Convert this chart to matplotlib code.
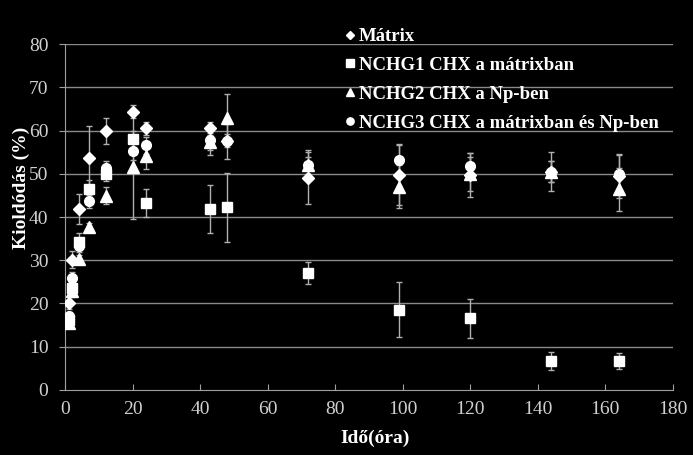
import matplotlib.pyplot as plt

# time points (hours)
ido = [1, 2, 4, 7, 12, 20, 24, 43, 48, 72, 99, 120, 144, 164]

# release (%) and error for each formulation
matrix = [20.2, 30.1, 41.8, 53.6, 60.0, 64.4, 60.5, 60.5, 57.7, 49.0, 49.8, 49.7, 50.5, 49.5]
matrix_err = [1.5, 2.0, 3.5, 7.5, 3.0, 1.5, 1.5, 1.5, 1.5, 6.0, 7.0, 5.0, 4.5, 5.0]

nchg1 = [16.2, 23.5, 34.3, 46.6, 49.9, 58.0, 43.2, 41.9, 42.3, 27.0, 18.6, 16.6, 6.7, 6.7]
nchg1_err = [1.5, 1.5, 2.0, 2.0, 1.5, 2.0, 3.3, 5.5, 8.0, 2.5, 6.4, 4.5, 2.0, 1.8]

nchg2 = [15.5, 23.0, 30.3, 37.6, 44.9, 51.5, 54.1, 57.4, 62.9, 52.1, 47.0, 50.0, 50.5, 46.4]
nchg2_err = [1.0, 1.5, 1.0, 1.0, 2.0, 12.0, 3.0, 2.0, 5.6, 3.3, 5.0, 4.0, 2.5, 5.0]

nchg3 = [17.0, 25.8, 33.3, 43.7, 51.4, 55.3, 56.6, 57.8, 57.5, 52.0, 53.1, 51.8, 50.5, 49.9]
nchg3_err = [1.0, 1.5, 1.5, 1.5, 1.5, 2.0, 2.0, 3.5, 4.0, 2.0, 3.5, 3.0, 2.5, 4.5]

labels = ['Mátrix', 'NCHG1 CHX a mátrixban', 'NCHG2 CHX a Np-ben',
          'NCHG3 CHX a mátrixban és Np-ben']

plt.rcParams['font.family'] = ['Liberation Serif', 'DejaVu Serif']

fig = plt.figure(figsize=(6.93, 4.55), dpi=100, facecolor='black')
ax = fig.add_axes([0.094, 0.143, 0.877, 0.760])
ax.set_facecolor('black')

# horizontal gridlines
for v in range(10, 90, 10):
    ax.axhline(v, color='#8a8a8a', lw=1.0, zorder=0)

series = [(matrix, matrix_err, 'D', 6), (nchg1, nchg1_err, 's', 7),
          (nchg2, nchg2_err, '^', 8), (nchg3, nchg3_err, 'o', 7)]
for (vals, err, mk, ms), lab in zip(series, labels):
    ax.errorbar(ido, vals, yerr=err, fmt=mk, ms=ms, color='white', mec='white',
                ecolor='#b0b0b0', elinewidth=1.0, capsize=2.5, capthick=1.0,
                label=lab, zorder=3)

ax.set_xlim(0, 180)
ax.set_ylim(0, 80)
ax.set_xticks(range(0, 181, 20))
ax.set_yticks(range(0, 81, 10))

for s in ['top', 'right']:
    ax.spines[s].set_visible(False)
for s in ['left', 'bottom']:
    ax.spines[s].set_color('#a0a0a0')
ax.tick_params(colors='#a0a0a0', labelcolor='#d0d0d0', labelsize=14, length=4)
ax.tick_params(axis='x', direction='in', pad=8)
ax.tick_params(axis='y', direction='out', pad=8)

ax.set_xlabel('Idő(óra)', color='white', fontsize=14, fontweight='bold')
ax.set_ylabel('Kioldódás (%)', color='white', fontsize=14, fontweight='bold')
ax.xaxis.set_label_coords(0.51, -0.115)
ax.yaxis.set_label_coords(-0.058, 0.585)

handles, labs = ax.get_legend_handles_labels()
handles = [h[0] for h in handles]
leg = ax.legend(handles, labs, loc='upper left', bbox_to_anchor=(0.435, 1.095),
                frameon=False, handlelength=0.4, handletextpad=0.25,
                labelspacing=0.62, markerscale=0.75,
                prop={'weight': 'bold', 'size': 13.5})
for t in leg.get_texts():
    t.set_color('white')

fig.savefig('out.png', dpi=100, facecolor='black')
